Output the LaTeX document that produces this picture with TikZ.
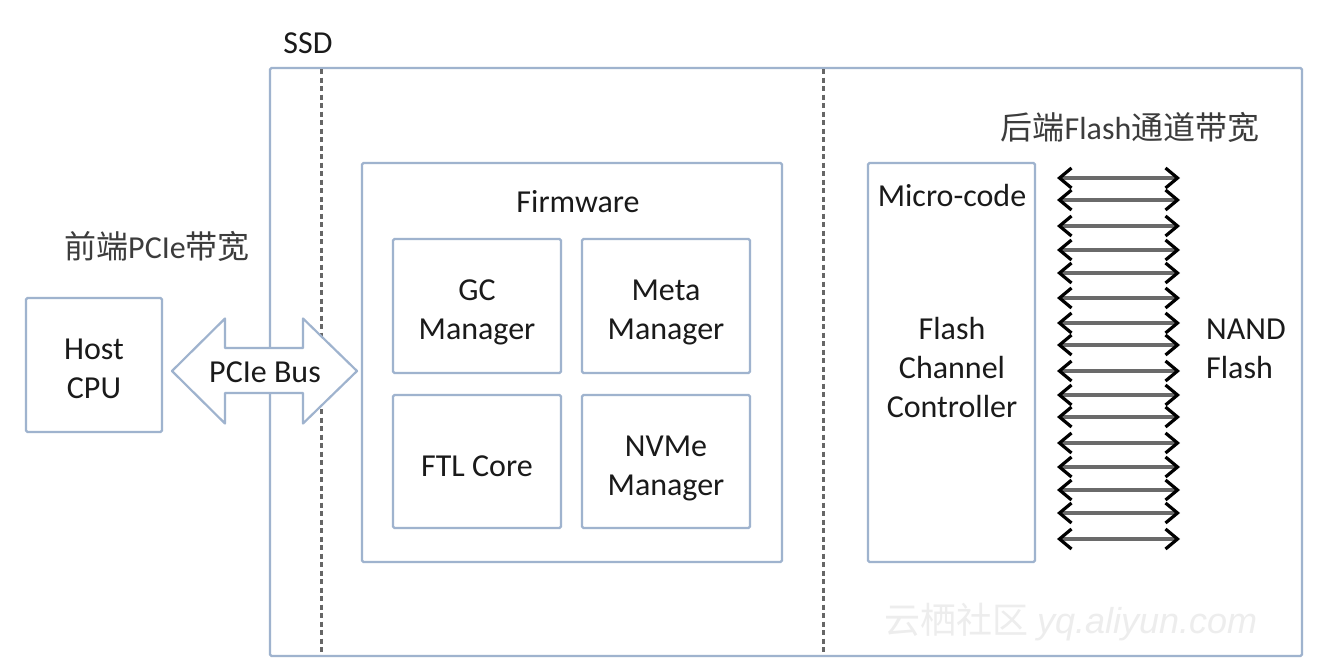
\documentclass[tikz,border=0pt]{standalone}
\usepackage{fontspec}
\setmainfont{Carlito}
\newfontfamily\cjk{Noto Sans CJK SC}
\newfontfamily\wmlatin{Liberation Sans}
\usetikzlibrary{arrows.meta}
\definecolor{boxblue}{HTML}{9FB3CE}
\definecolor{txt}{HTML}{1A1A1A}
\definecolor{cn}{HTML}{3C3C3C}
\definecolor{dashgray}{HTML}{666666}
\definecolor{shaft}{HTML}{6A6A6A}
\tikzset{
  blk/.style={draw=boxblue, line width=2.2pt, rounded corners=1.5pt, fill=white, inner sep=0pt},
  lbl/.style={text=txt, font=\fontsize{32}{39}\selectfont, align=center, inner sep=0pt},
  cnlbl/.style={text=cn, font=\fontsize{32}{39}\selectfont, inner sep=0pt},
  dashline/.style={draw=dashgray, line width=3pt, dash pattern=on 5pt off 3.5pt},
  chan/.style={draw=shaft, line width=3.4pt,
    {Straight Barb[length=12pt,width=20pt,line width=3.2pt,color=black]}-{Straight Barb[length=12pt,width=20pt,line width=3.2pt,color=black]}},
  busarrow/.style={draw=boxblue, line width=2.2pt, fill=white, line join=round}
}
\begin{document}
\begin{tikzpicture}[x=1pt, y=-1pt]
\useasboundingbox (0,0) rectangle (1324,670);
\fill[white] (0,0) rectangle (1324,670);

% watermark
\node[text=black!7, inner sep=0pt] (wm) at (1071,622)
  {\fontsize{36}{36}\selectfont{\cjk 云栖社区} {\wmlatin\itshape yq.aliyun.com}};

% SSD
\node[blk, fill=none, minimum width=1032pt, minimum height=588pt] (ssd) at (786,362) {};
\node[lbl] (ssdlbl) at (308,43) {SSD};
\draw[dashline] (321,69) -- (321,655);
\draw[dashline] (823,69) -- (823,655);

% Host CPU
\node[blk, minimum width=136pt, minimum height=134pt] (host) at (94,365) {};
\node[lbl] (hostlbl) at (94,369) {Host\\CPU};
\node[cnlbl] (front) at (157,246) {{\cjk 前端}PCIe{\cjk 带宽}};

% PCIe bus double arrow
\coordinate (busL) at (172,371);
\coordinate (busR) at (357,371);
\draw[busarrow] (busL) -- ++(53,-52.5) -- ++(0,29.5) -- ++(78,0) -- ++(0,-29.5)
  -- (busR) -- ++(-54,52.5) -- ++(0,-30.5) -- ++(-78,0) -- ++(0,30.5) -- cycle;
\node[lbl] (bus) at (265,372) {PCIe Bus};

% Firmware
\node[blk, minimum width=420pt, minimum height=399pt] (fw) at (572,362.5) {};
\node[lbl] (fwlbl) at (578,202) {Firmware};
\node[blk, minimum width=168pt, minimum height=134pt] (gc) at (477,306) {};
\node[lbl] at ([yshift=-6pt]gc.center) {GC\\Manager};
\node[blk, minimum width=168pt, minimum height=134pt] (meta) at (666,306) {};
\node[lbl] at ([yshift=-6pt]meta.center) {Meta\\Manager};
\node[blk, minimum width=168pt, minimum height=133pt] (ftl) at (477,461.5) {};
\node[lbl] at ([yshift=-5pt]ftl.center) {FTL Core};
\node[blk, minimum width=168pt, minimum height=133pt] (nvme) at (666,461.5) {};
\node[lbl] at ([yshift=-6.5pt]nvme.center) {NVMe\\Manager};

% Micro-code / flash channel controller
\node[blk, minimum width=167pt, minimum height=399pt] (mc) at (951.5,362.5) {};
\node[lbl] (mclbl) at (952,195) {Micro-code};
\node[lbl] (fcc) at (952,367) {Flash\\Channel\\Controller};
\node[cnlbl] (back) at (1130,127) {{\cjk 后端}Flash{\cjk 通道带宽}};

% channels
\foreach \yy in {178,200,226,250,273,298,323,345,371,395,417,443,467,490,513,539}
  \draw[chan] (1057,\yy) -- (1180,\yy);

\node[lbl, align=left, anchor=west] (nand) at (1206,349) {NAND\\Flash};
\end{tikzpicture}
\end{document}
